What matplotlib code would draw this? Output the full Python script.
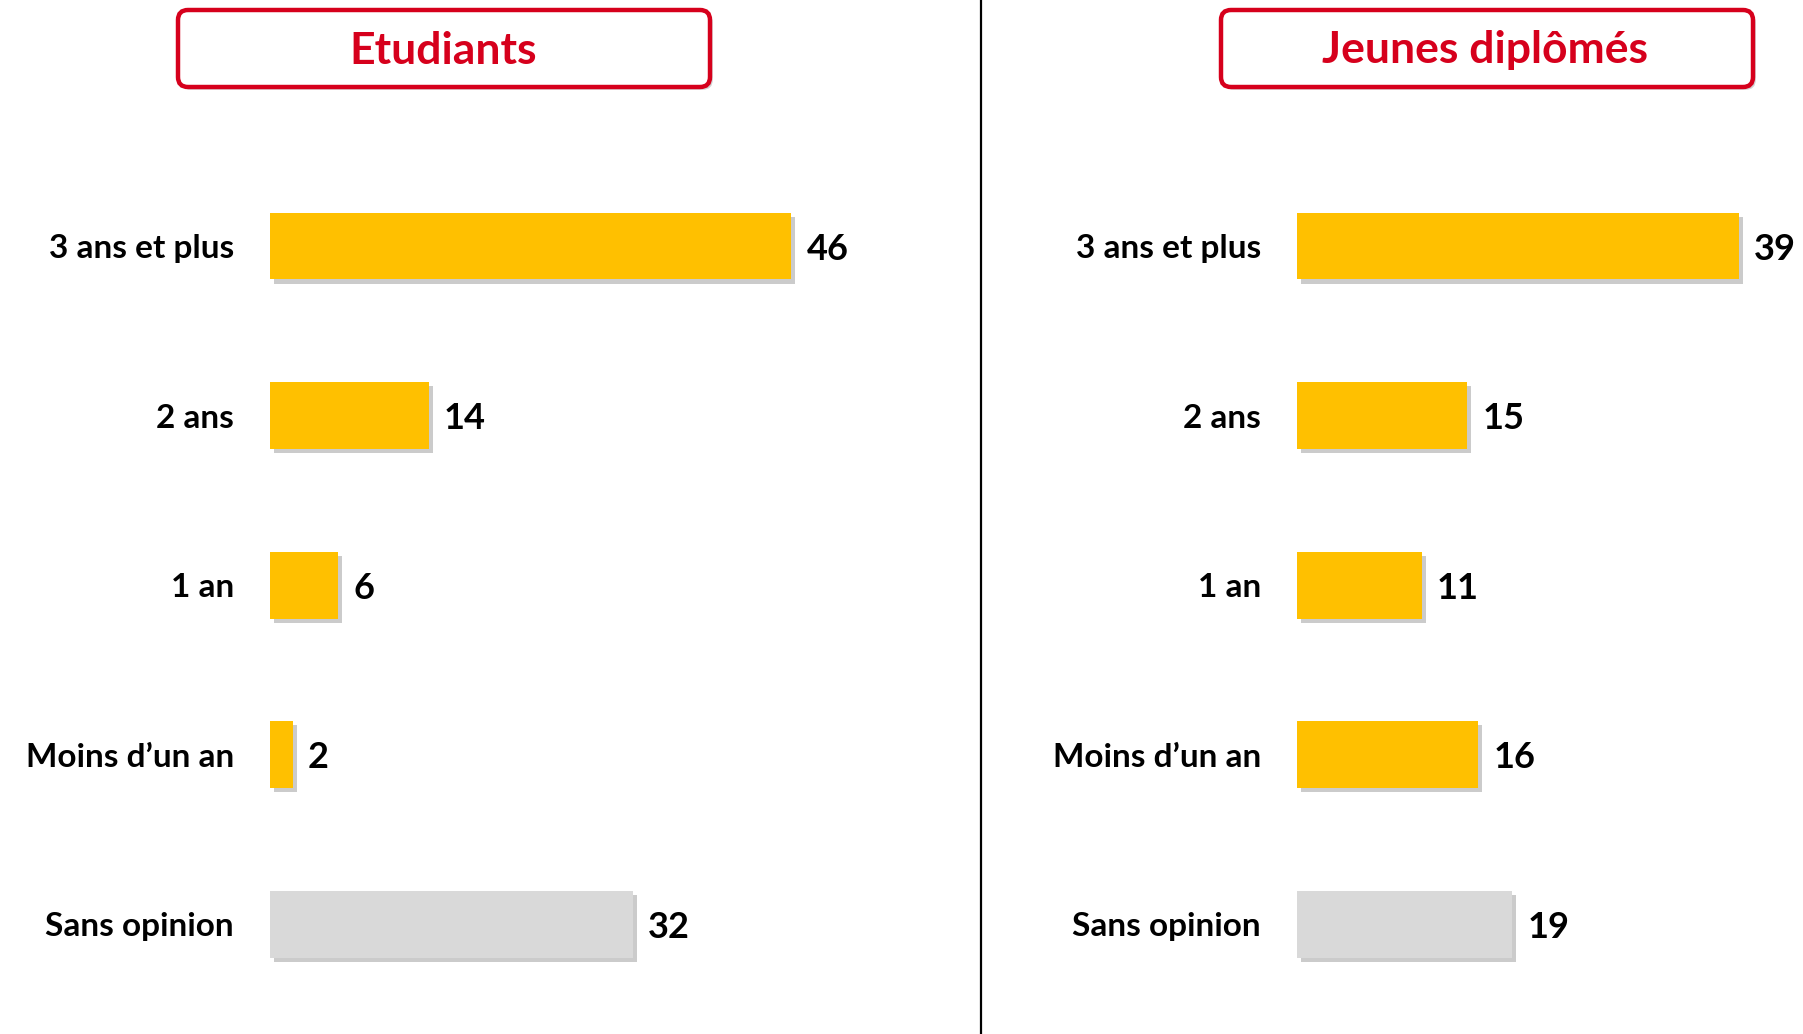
import matplotlib.pyplot as plt
import matplotlib.patheffects as pe
from matplotlib.patches import FancyBboxPatch

# données
categories = ["3 ans et plus", "2 ans", "1 an", "Moins d’un an", "Sans opinion"]
etudiants = [46, 14, 6, 2, 32]
jeunes = [39, 15, 11, 16, 19]
titres = ["Etudiants", "Jeunes diplômés"]
couleurs = ["#FFC000", "#FFC000", "#FFC000", "#FFC000", "#D9D9D9"]

plt.rcParams['font.family'] = ['Lato', 'DejaVu Sans']
plt.rcParams['font.weight'] = 'bold'

W, H = 1803, 1034
fig = plt.figure(figsize=(W / 100, H / 100), dpi=100)

# axe de fond en pixels pour les cadres de titre et le séparateur
bg = fig.add_axes([0, 0, 1, 1])
bg.set_xlim(0, W)
bg.set_ylim(H, 0)
bg.axis('off')
bg.plot([981, 981], [0, H], color='black', lw=1.6)

boites = [(178, 10, 532, 77, 443), (1221, 10, 532, 77, 1485)]
for (x, y, w, h, cx), titre in zip(boites, titres):
    box = FancyBboxPatch((x, y), w, h, boxstyle="round,pad=0,rounding_size=10",
                         fc='white', ec='#D6001C', lw=3.2)
    box.set_path_effects([pe.SimplePatchShadow(offset=(2, -2), alpha=0.25), pe.Normal()])
    bg.add_patch(box)
    bg.text(cx, y + h / 2 + 2, titre, color='#D6001C', fontsize=32, fontweight='bold',
            ha='center', va='center')

px_unit = 11.33
y0_px, pas = 246, 169.6
ax_bottom = (H - (y0_px + 4.5 * pas)) / H
ax_height = 5 * pas / H

def panneau(left_px, xmax, valeurs):
    ax = fig.add_axes([left_px / W, ax_bottom, xmax * px_unit / W, ax_height])
    ax.set_xlim(0, xmax)
    ax.set_ylim(4.5, -0.5)
    pos = list(range(len(categories)))
    bars = ax.barh(pos, valeurs, height=0.395, color=couleurs, zorder=2)
    for b in bars:
        b.set_path_effects([pe.SimplePatchShadow(offset=(3, -3), shadow_rgbFace='#7f7f7f', alpha=0.4),
                            pe.Normal()])
    for p, v in zip(pos, valeurs):
        ax.text(v + 1.35, p, str(v), va='center_baseline', ha='left', fontsize=26,
                fontweight='bold', color='black', clip_on=False)
    ax.set_yticks(pos)
    ax.set_yticklabels(categories, fontsize=24, fontweight='bold', va='center_baseline')
    ax.tick_params(axis='y', length=0, pad=26)
    ax.set_xticks([])
    for s in ax.spines.values():
        s.set_visible(False)
    ax.patch.set_alpha(0)
    return ax

panneau(270, 50, etudiants)
panneau(1297, 44, jeunes)

fig.savefig("out.png", dpi=100)
